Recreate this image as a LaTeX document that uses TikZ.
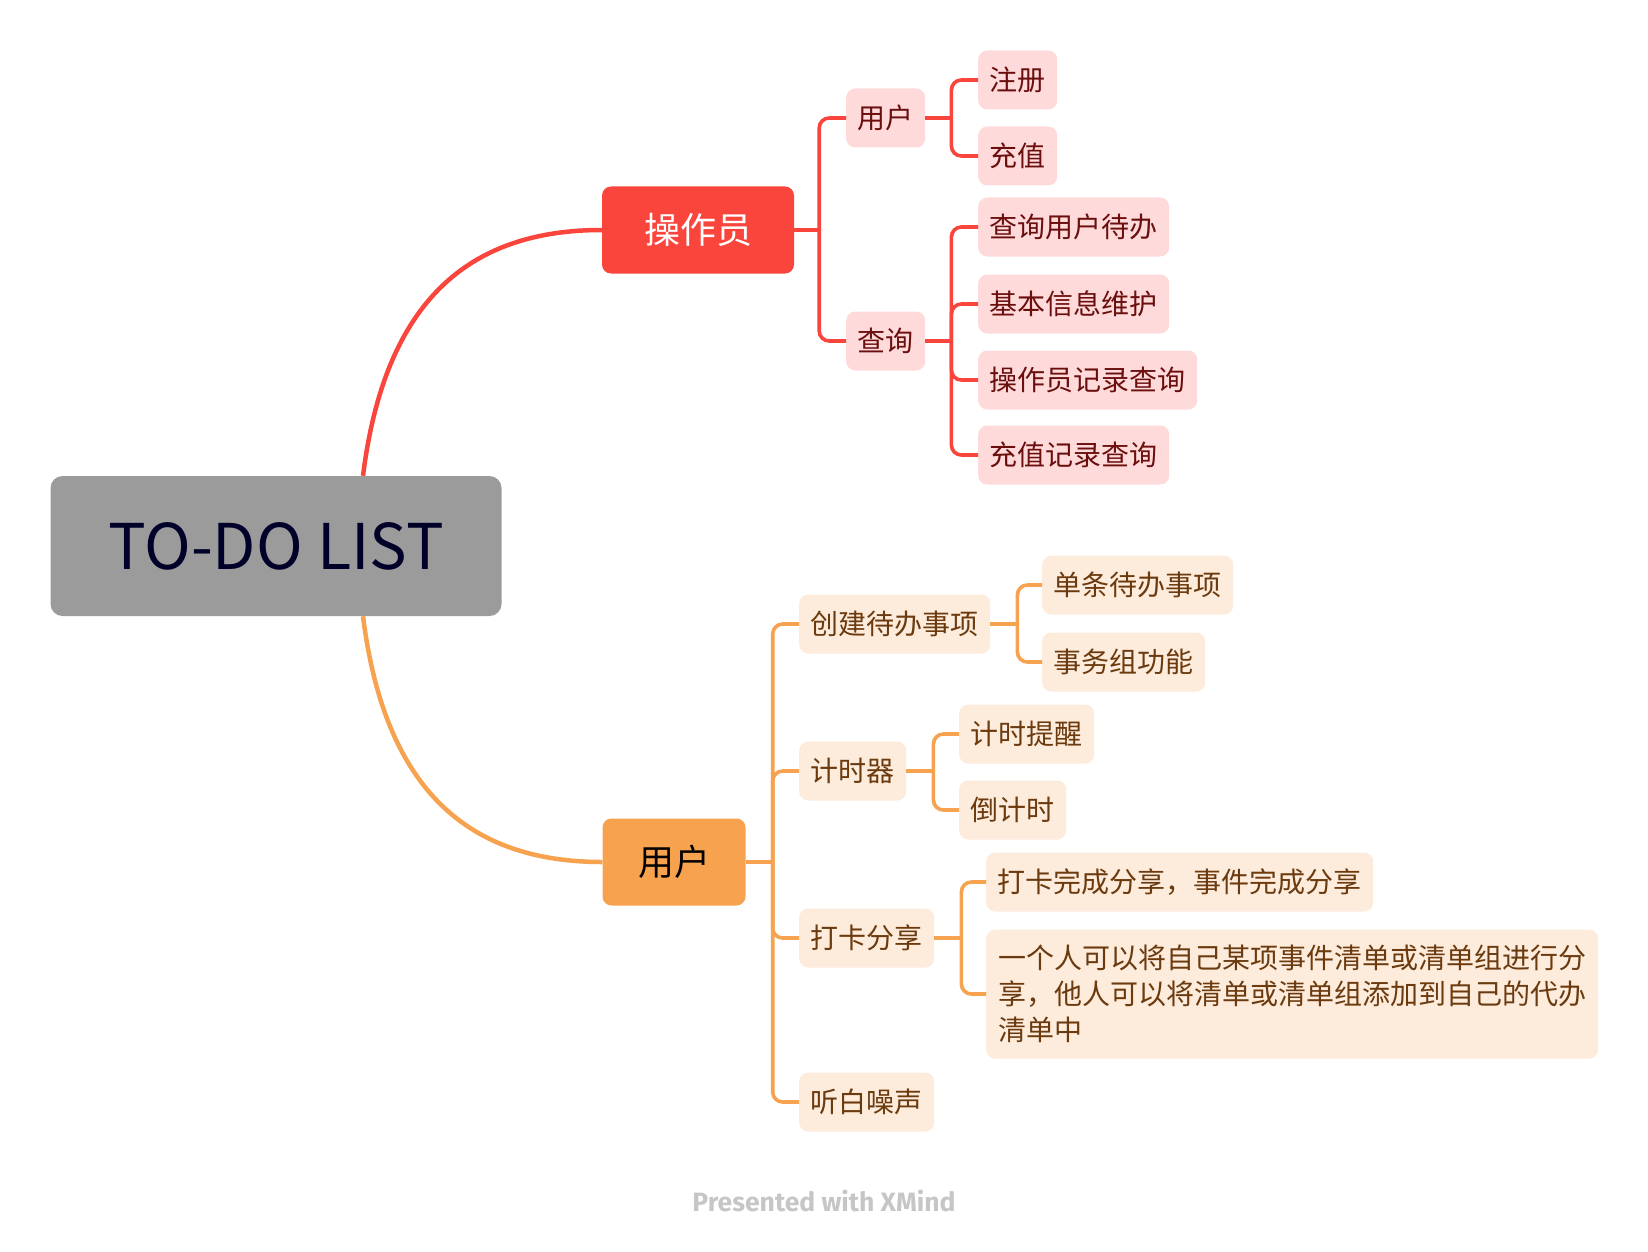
\documentclass[tikz,border=0pt]{standalone}
\usepackage{fontspec}
\setmainfont{Noto Sans CJK SC}
\newfontfamily\markfont{Fira Sans}
\usepackage{xcolor}
\definecolor{rootgray}{HTML}{9B9B9B}
\definecolor{rootink}{HTML}{000028}
\definecolor{opred}{HTML}{F9453C}
\definecolor{redfill}{HTML}{FFDADA}
\definecolor{redink}{HTML}{6B0E0E}
\definecolor{usorange}{HTML}{F7A24F}
\definecolor{orfill}{HTML}{FDEBDB}
\definecolor{orink}{HTML}{6B3A0E}
\definecolor{markgray}{HTML}{C6C6C6}

\begin{document}
\begin{tikzpicture}[x=1pt, y=-1pt,
    every node/.style={rounded corners=9pt, inner sep=0pt, align=center},
    root/.style={fill=rootgray, text=rootink, rounded corners=12pt, minimum width=451pt, minimum height=140pt, font=\fontsize{63}{63}\selectfont},
    opbox/.style={fill=opred, text=white, minimum width=192pt, minimum height=87pt, font=\fontsize{36}{36}\selectfont},
    usbox/.style={fill=usorange, text=black, minimum width=143pt, minimum height=87pt, font=\fontsize{36}{36}\selectfont},
    redleaf/.style={anchor=west, fill=redfill, text=redink, inner xsep=11.5pt, minimum height=59pt, font=\fontsize{28}{28}\selectfont},
    orleaf/.style={anchor=west, fill=orfill, text=orink, inner xsep=11.5pt, minimum height=59pt, font=\fontsize{28}{36}\selectfont},
    redline/.style={draw=opred, line width=3.6pt, rounded corners=10pt},
    orline/.style={draw=usorange, line width=3.6pt, rounded corners=10pt}]
    \useasboundingbox (0,0) rectangle (1648,1252);

    % centre and main topics
    \node[root] (root) at (276,546) {TO-DO LIST};
    \node[opbox] (op) at (698,230) {操作员};
    \node[usbox] (us) at (674,862) {用户};

    \draw[redline, line width=4.5pt] ([xshift=87pt]root.north) .. controls +(22,-176) and +(-132,0) .. (op.west);
    \draw[orline, line width=4.5pt] ([xshift=87pt]root.south) .. controls +(22,176) and +(-132,0) .. (us.west);

    % operator branch
    \node[redleaf] (r1) at (846,118) {用户};
    \node[redleaf] (r2) at (846,341) {查询};
    \node[redleaf] (r11) at (978,80) {注册};
    \node[redleaf] (r12) at (978,156) {充值};
    \node[redleaf] (r21) at (978,227) {查询用户待办};
    \node[redleaf] (r22) at (978,304) {基本信息维护};
    \node[redleaf] (r23) at (978,380) {操作员记录查询};
    \node[redleaf] (r24) at (978,455) {充值记录查询};

    \coordinate (jop) at ([xshift=25pt]op.east);
    \coordinate (jr1) at ([xshift=26pt]r1.east);
    \coordinate (jr2) at ([xshift=26pt]r2.east);
    \draw[redline] (op.east) -- (jop);
    \draw[redline] (r1.east) -- (jr1);
    \draw[redline] (r2.east) -- (jr2);
    \foreach \c in {r1,r2} \draw[redline] (jop) |- (\c.west);
    \foreach \c in {r11,r12} \draw[redline] (jr1) |- (\c.west);
    \foreach \c in {r21,r22,r23,r24} \draw[redline] (jr2) |- (\c.west);

    % user branch
    \node[orleaf] (o1) at (799,624) {创建待办事项};
    \node[orleaf] (o2) at (799,771) {计时器};
    \node[orleaf] (o3) at (799,938) {打卡分享};
    \node[orleaf] (o4) at (799,1102) {听白噪声};
    \node[orleaf] (o11) at (1042,585) {单条待办事项};
    \node[orleaf] (o12) at (1042,662) {事务组功能};
    \node[orleaf] (o21) at (959,734) {计时提醒};
    \node[orleaf] (o22) at (959,810) {倒计时};
    \node[orleaf] (o31) at (986,882) {打卡完成分享，事件完成分享};
    \node[orleaf, align=left, minimum height=129pt, inner xsep=12pt] (o32) at (986,994)
        {一个人可以将自己某项事件清单或清单组进行分\\享，他人可以将清单或清单组添加到自己的代办\\清单中};

    \coordinate (jus) at ([xshift=27pt]us.east);
    \coordinate (jo1) at ([xshift=27pt]o1.east);
    \coordinate (jo2) at ([xshift=27pt]o2.east);
    \coordinate (jo3) at ([xshift=27pt]o3.east);
    \draw[orline] (us.east) -- (jus);
    \draw[orline] (o1.east) -- (jo1);
    \draw[orline] (o2.east) -- (jo2);
    \draw[orline] (o3.east) -- (jo3);
    \foreach \c in {o1,o2,o3,o4} \draw[orline] (jus) |- (\c.west);
    \foreach \c in {o11,o12} \draw[orline] (jo1) |- (\c.west);
    \foreach \c in {o21,o22} \draw[orline] (jo2) |- (\c.west);
    \foreach \c in {o31,o32} \draw[orline] (jo3) |- (\c.west);

    \node[text=markgray, font=\markfont\bfseries\fontsize{26.5}{26.5}\selectfont] (mark) at (824,1201) {Presented with XMind};
\end{tikzpicture}
\end{document}
